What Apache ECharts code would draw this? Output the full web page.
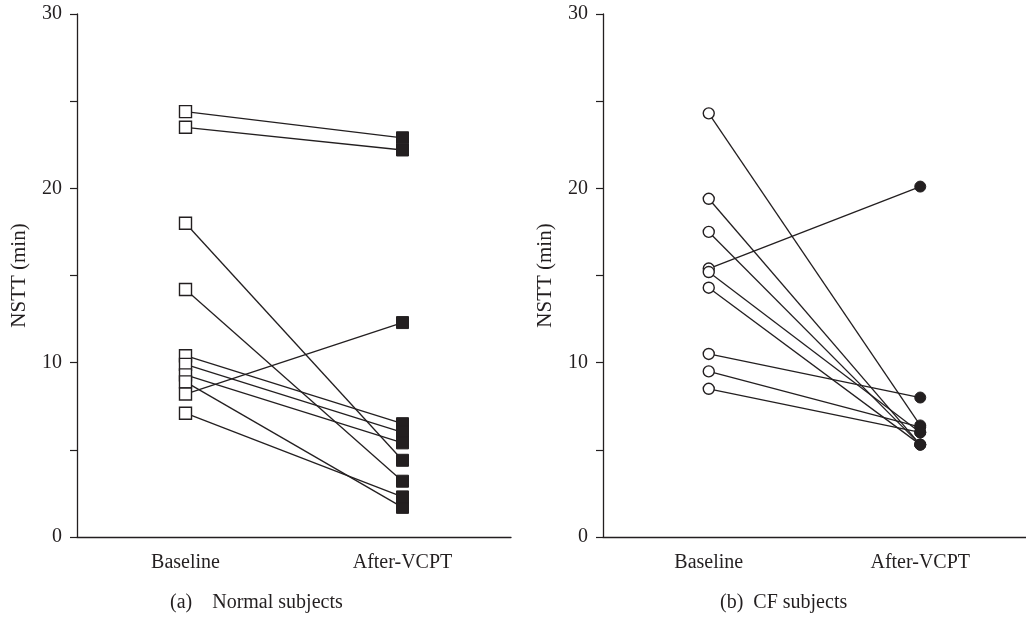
<!DOCTYPE html>
<html>
<head>
<meta charset="utf-8">
<script src="https://cdn.jsdelivr.net/npm/echarts@6/dist/echarts.min.js"></script>
<style>
html,body{margin:0;padding:0;background:#fff;}
#c{width:1026px;height:617px;}
</style>
</head>
<body>
<div id="c"></div>
<script>
const categories = ['Baseline', 'After-VCPT'];
const yTicks = [0, 10, 20, 30];
// Normal subjects: [baseline, after]
const normalBaseline = [24.4, 23.5, 18.0, 14.2, 10.4, 9.9, 9.3, 8.9, 8.2, 7.1];
const normalAfter    = [22.9, 22.2, 4.4, 3.2, 6.5, 6.0, 5.4, 1.7, 12.3, 2.3];
// CF subjects
const cfBaseline = [24.3, 19.4, 17.5, 15.4, 15.2, 14.3, 10.5, 9.5, 8.5];
const cfAfter    = [6.4, 5.3, 5.3, 20.1, 6.0, 5.3, 8.0, 6.3, 6.0];

const FONT = 'Liberation Serif';
const INK = '#231f20';

function makeSeries(base, after, idx, symbol, size) {
  return base.map((b, i) => ({
    type: 'line',
    xAxisIndex: idx, yAxisIndex: idx,
    symbol: symbol, symbolSize: size,
    lineStyle: {color: INK, width: 1.3},
    animation: false,
    z: 2,
    data: [
      {value: b, itemStyle: {color: '#fff', borderColor: INK, borderWidth: 1.4}},
      {value: after[i], itemStyle: {color: INK, borderColor: INK, borderWidth: 1}}
    ]
  }));
}

function xAxis(idx) {
  return {
    type: 'category', gridIndex: idx, data: categories, boundaryGap: true,
    axisLine: {lineStyle: {color: INK, width: 1.3}},
    axisTick: {alignWithLabel: true, length: 7, lineStyle: {color: INK, width: 1.2}},
    axisLabel: {fontFamily: FONT, fontSize: 20, color: INK, margin: 16}
  };
}
function yAxis(idx) {
  return {
    type: 'value', gridIndex: idx, min: 0, max: 30, interval: 5,
    name: 'NSTT (min)', nameLocation: 'middle', nameGap: 47,
    nameTextStyle: {fontFamily: FONT, fontSize: 21, color: INK},
    splitLine: {show: false},
    axisLine: {show: true, lineStyle: {color: INK, width: 1.3}},
    axisTick: {show: true, inside: false, length: 7, lineStyle: {color: INK, width: 1.2}},
    axisLabel: {fontFamily: FONT, fontSize: 20, color: INK, margin: 15,
      formatter: v => yTicks.indexOf(v) >= 0 ? String(v) : ''}
  };
}

const chart = echarts.init(document.getElementById('c'), null, {renderer: 'canvas'});
chart.setOption({
  backgroundColor: '#fff',
  animation: false,
  grid: [
    {left: 77, top: 14, width: 434, height: 523},
    {left: 603, top: 14, width: 434, height: 523}
  ],
  xAxis: [xAxis(0), xAxis(1)],
  yAxis: [yAxis(0), yAxis(1)],
  graphic: [
    {type: 'text', left: 170, top: 593, style: {text: '(a)    Normal subjects', font: '20px "Liberation Serif"', fill: INK}},
    {type: 'text', left: 720, top: 593, style: {text: '(b)  CF subjects', font: '20px "Liberation Serif"', fill: INK}}
  ],
  series: [].concat(
    makeSeries(normalBaseline, normalAfter, 0, 'rect', 12),
    makeSeries(cfBaseline, cfAfter, 1, 'circle', 11)
  )
});
</script>
</body>
</html>
